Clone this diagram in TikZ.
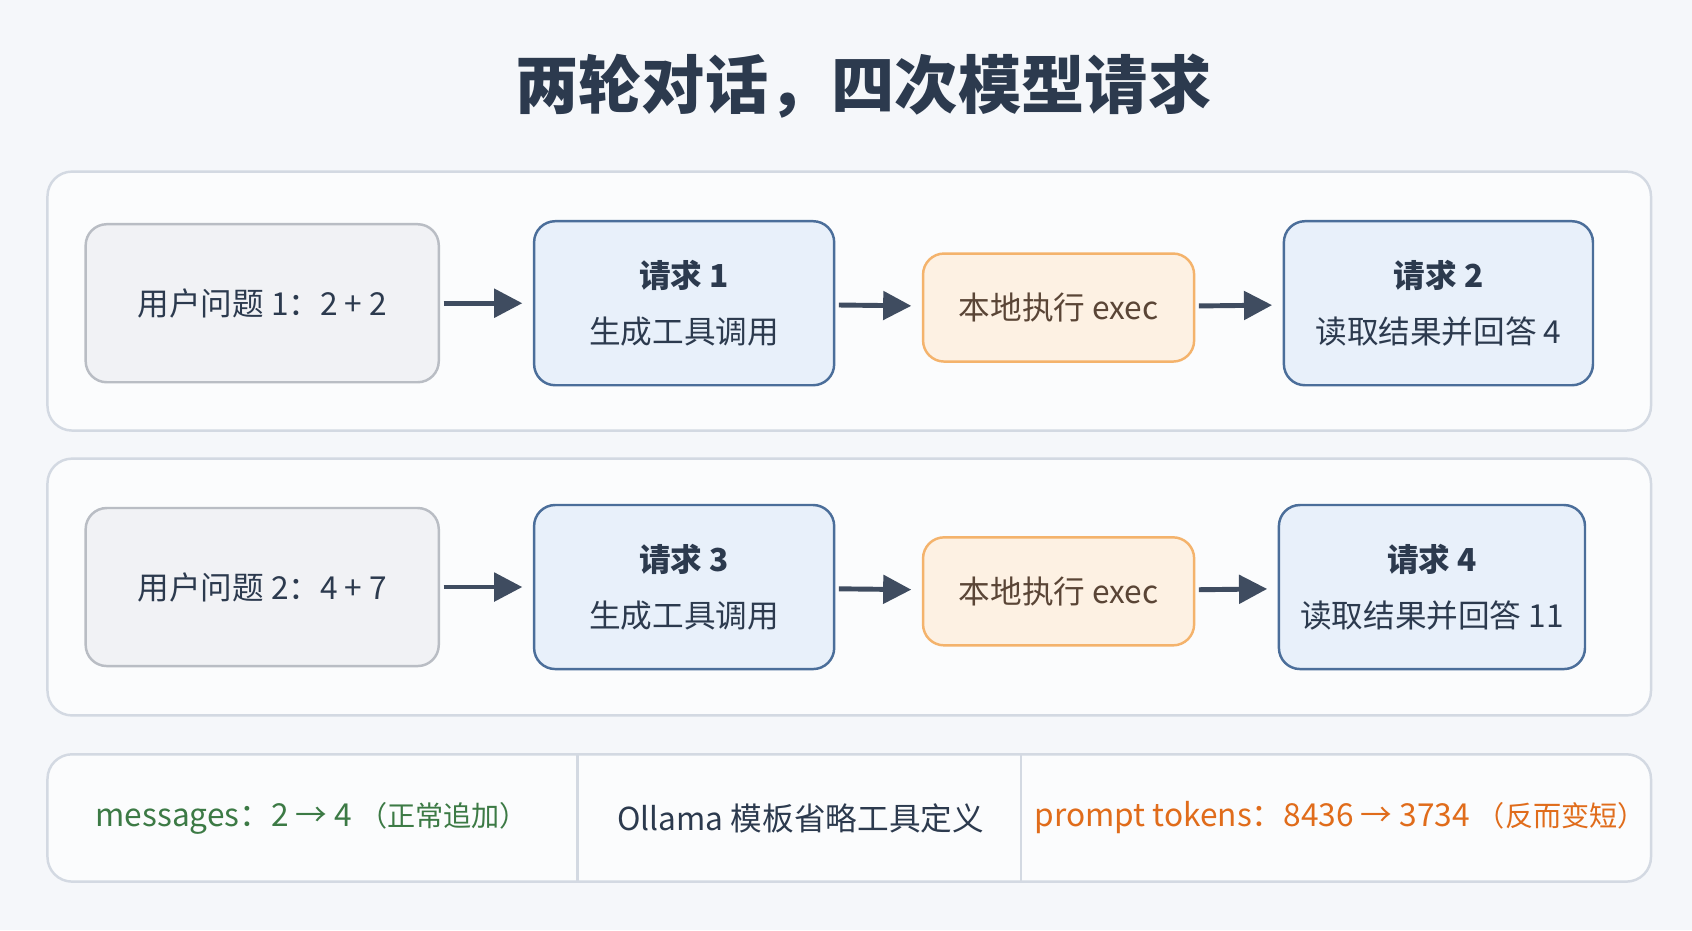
\documentclass[tikz,border=0pt]{standalone}
\usepackage{fontspec}
\setmainfont{Noto Sans CJK SC}
\usetikzlibrary{positioning, arrows.meta}
\definecolor{bgc}{HTML}{F5F7FA}
\definecolor{panelc}{HTML}{D3D9E2}
\definecolor{ink}{HTML}{2C3A4E}
\definecolor{arrowc}{HTML}{3F4C60}
\definecolor{userf}{HTML}{F1F2F5}
\definecolor{userd}{HTML}{B9BDC4}
\definecolor{reqf}{HTML}{E8F0FA}
\definecolor{reqd}{HTML}{4B6E9A}
\definecolor{execf}{HTML}{FDF1E3}
\definecolor{execd}{HTML}{F4B36C}
\definecolor{execi}{HTML}{5A4536}
\definecolor{okc}{HTML}{3C7A45}
\definecolor{warnc}{HTML}{E06C1B}

\tikzset{
  box/.style={draw, rounded corners=6pt, line width=0.7pt, align=center, inner sep=0pt},
  user/.style={box, fill=userf, draw=userd, minimum width=3.53cm, minimum height=1.58cm, font=\fontsize{9}{11}\selectfont, text=ink},
  req/.style={box, fill=reqf, draw=reqd, minimum height=1.64cm, font=\fontsize{9}{16}\selectfont, text=ink},
  exec/.style={box, fill=execf, draw=execd, minimum width=2.71cm, minimum height=1.08cm, font=\fontsize{9}{11}\selectfont, text=execi},
  panel/.style={draw=panelc, fill=white!60!bgc, rounded corners=7pt, line width=0.7pt},
  flow/.style={-{Triangle[length=8pt,width=8pt]}, line width=1.4pt, draw=arrowc, shorten <=1pt, shorten >=3pt},
}

\begin{document}
\begin{tikzpicture}[x=0.01079cm, y=-0.01079cm]
	\fill[bgc] (0,0) rectangle (1568,862);
	\useasboundingbox (0,0) rectangle (1568,862);

	\node[font=\fontsize{18}{22}\selectfont\bfseries, text=ink] (title) at (800,80) {两轮对话，四次模型请求};

	\draw[panel] (44,159) rectangle (1530,399);
	\draw[panel] (44,425) rectangle (1530,663);
	\draw[panel] (44,699) rectangle (1530,817);
	\draw[panelc, line width=0.7pt] (535,699) -- (535,817) (946,699) -- (946,817);

	% round 1
	\node[user] (q1) at (243,281) {用户问题 1：2 + 2};
	\node[req, minimum width=3.0cm] (r1) at (634,281) {\textbf{请求 1}\\生成工具调用};
	\node[exec] (e1) at (981,285) {本地执行 exec};
	\node[req, minimum width=3.09cm] (r2) at (1333,281) {\textbf{请求 2}\\读取结果并回答 4};

	% round 2
	\node[user] (q2) at (243,544) {用户问题 2：4 + 7};
	\node[req, minimum width=3.0cm] (r3) at (634,544) {\textbf{请求 3}\\生成工具调用};
	\node[exec] (e2) at (981,548) {本地执行 exec};
	\node[req, minimum width=3.06cm] (r4) at (1327,544) {\textbf{请求 4}\\读取结果并回答 11};

	\draw[flow] (q1) -- (r1);
	\draw[flow] (r1) -- (e1);
	\draw[flow] (e1) -- (r2);
	\draw[flow] (q2) -- (r3);
	\draw[flow] (r3) -- (e2);
	\draw[flow] (e2) -- (r4);

	% summary
	\node[text=okc, font=\fontsize{9}{11}\selectfont] (msg) at (289,758) {messages：2 → 4 {\fontsize{8}{11}\selectfont（正常追加）}};
	\node[text=ink, font=\fontsize{9}{11}\selectfont] (tpl) at (742,758) {Ollama 模板省略工具定义};
	\node[text=warnc, font=\fontsize{9}{11}\selectfont] (tok) at (1242,758) {prompt tokens：8436 → 3734 {\fontsize{8}{11}\selectfont（反而变短）}};
\end{tikzpicture}
\end{document}
